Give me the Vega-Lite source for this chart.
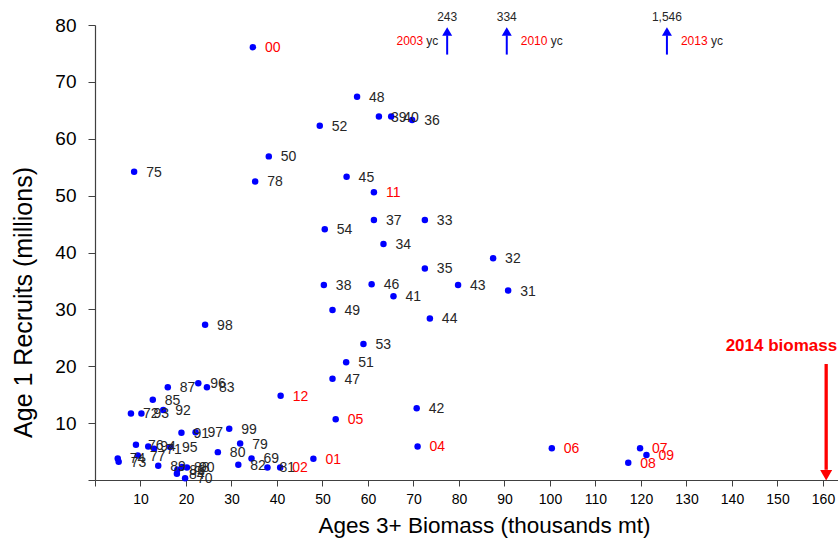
{
  "$schema": "https://vega.github.io/schema/vega-lite/v6.json",
  "width": 743,
  "height": 455,
  "autosize": {"type": "none"},
  "padding": {"left": 95, "top": 25, "right": 0, "bottom": 62},
  "background": "white",
  "config": {"view": {"stroke": null}, "font": "Liberation Sans", "axis": {"grid": false}},
  "datasets": {
    "points": [
      {"yr": "31", "biomass": 90.8, "recruits": 33.3, "period": "1931-1999"},
      {"yr": "32", "biomass": 87.5, "recruits": 39.0, "period": "1931-1999"},
      {"yr": "33", "biomass": 72.5, "recruits": 45.7, "period": "1931-1999"},
      {"yr": "34", "biomass": 63.4, "recruits": 41.5, "period": "1931-1999"},
      {"yr": "35", "biomass": 72.5, "recruits": 37.2, "period": "1931-1999"},
      {"yr": "36", "biomass": 69.7, "recruits": 63.3, "period": "1931-1999"},
      {"yr": "37", "biomass": 61.3, "recruits": 45.7, "period": "1931-1999"},
      {"yr": "38", "biomass": 50.3, "recruits": 34.3, "period": "1931-1999"},
      {"yr": "39", "biomass": 62.4, "recruits": 63.9, "period": "1931-1999"},
      {"yr": "40", "biomass": 65.1, "recruits": 63.9, "period": "1931-1999"},
      {"yr": "41", "biomass": 65.6, "recruits": 32.3, "period": "1931-1999"},
      {"yr": "42", "biomass": 70.7, "recruits": 12.6, "period": "1931-1999"},
      {"yr": "43", "biomass": 79.8, "recruits": 34.3, "period": "1931-1999"},
      {"yr": "44", "biomass": 73.6, "recruits": 28.4, "period": "1931-1999"},
      {"yr": "45", "biomass": 55.3, "recruits": 53.3, "period": "1931-1999"},
      {"yr": "46", "biomass": 60.8, "recruits": 34.4, "period": "1931-1999"},
      {"yr": "47", "biomass": 52.2, "recruits": 17.8, "period": "1931-1999"},
      {"yr": "48", "biomass": 57.6, "recruits": 67.4, "period": "1931-1999"},
      {"yr": "49", "biomass": 52.2, "recruits": 29.9, "period": "1931-1999"},
      {"yr": "50", "biomass": 38.2, "recruits": 56.9, "period": "1931-1999"},
      {"yr": "51", "biomass": 55.2, "recruits": 20.7, "period": "1931-1999"},
      {"yr": "52", "biomass": 49.4, "recruits": 62.3, "period": "1931-1999"},
      {"yr": "53", "biomass": 59.0, "recruits": 23.9, "period": "1931-1999"},
      {"yr": "54", "biomass": 50.5, "recruits": 44.1, "period": "1931-1999"},
      {"yr": "69", "biomass": 34.4, "recruits": 3.8, "period": "1931-1999"},
      {"yr": "70", "biomass": 19.8, "recruits": 0.3, "period": "1931-1999"},
      {"yr": "71", "biomass": 13.0, "recruits": 5.5, "period": "1931-1999"},
      {"yr": "72", "biomass": 7.9, "recruits": 11.7, "period": "1931-1999"},
      {"yr": "73", "biomass": 5.2, "recruits": 3.2, "period": "1931-1999"},
      {"yr": "74", "biomass": 5.0, "recruits": 3.8, "period": "1931-1999"},
      {"yr": "75", "biomass": 8.6, "recruits": 54.2, "period": "1931-1999"},
      {"yr": "76", "biomass": 9.0, "recruits": 6.2, "period": "1931-1999"},
      {"yr": "77", "biomass": 9.4, "recruits": 4.3, "period": "1931-1999"},
      {"yr": "78", "biomass": 35.2, "recruits": 52.5, "period": "1931-1999"},
      {"yr": "79", "biomass": 31.9, "recruits": 6.4, "period": "1931-1999"},
      {"yr": "80", "biomass": 27.0, "recruits": 4.9, "period": "1931-1999"},
      {"yr": "81", "biomass": 37.9, "recruits": 2.2, "period": "1931-1999"},
      {"yr": "82", "biomass": 31.5, "recruits": 2.7, "period": "1931-1999"},
      {"yr": "83", "biomass": 24.6, "recruits": 16.3, "period": "1931-1999"},
      {"yr": "84", "biomass": 18.0, "recruits": 1.1, "period": "1931-1999"},
      {"yr": "85", "biomass": 12.7, "recruits": 14.1, "period": "1931-1999"},
      {"yr": "86", "biomass": 18.1, "recruits": 1.8, "period": "1931-1999"},
      {"yr": "87", "biomass": 16.0, "recruits": 16.3, "period": "1931-1999"},
      {"yr": "88", "biomass": 19.1, "recruits": 2.3, "period": "1931-1999"},
      {"yr": "89", "biomass": 13.9, "recruits": 2.5, "period": "1931-1999"},
      {"yr": "90", "biomass": 20.2, "recruits": 2.2, "period": "1931-1999"},
      {"yr": "91", "biomass": 19.0, "recruits": 8.3, "period": "1931-1999"},
      {"yr": "92", "biomass": 15.0, "recruits": 12.3, "period": "1931-1999"},
      {"yr": "93", "biomass": 10.2, "recruits": 11.7, "period": "1931-1999"},
      {"yr": "94", "biomass": 11.7, "recruits": 5.9, "period": "1931-1999"},
      {"yr": "95", "biomass": 16.5, "recruits": 5.8, "period": "1931-1999"},
      {"yr": "96", "biomass": 22.7, "recruits": 17.0, "period": "1931-1999"},
      {"yr": "97", "biomass": 22.1, "recruits": 8.4, "period": "1931-1999"},
      {"yr": "98", "biomass": 24.2, "recruits": 27.3, "period": "1931-1999"},
      {"yr": "99", "biomass": 29.5, "recruits": 9.0, "period": "1931-1999"},
      {"yr": "00", "biomass": 34.7, "recruits": 76.1, "period": "2000-2012"},
      {"yr": "01", "biomass": 48.0, "recruits": 3.75, "period": "2000-2012"},
      {"yr": "02", "biomass": 40.7, "recruits": 2.2, "period": "2000-2012"},
      {"yr": "04", "biomass": 70.9, "recruits": 5.9, "period": "2000-2012"},
      {"yr": "05", "biomass": 52.9, "recruits": 10.7, "period": "2000-2012"},
      {"yr": "06", "biomass": 100.4, "recruits": 5.6, "period": "2000-2012"},
      {"yr": "07", "biomass": 119.8, "recruits": 5.6, "period": "2000-2012"},
      {"yr": "08", "biomass": 117.2, "recruits": 3.05, "period": "2000-2012"},
      {"yr": "09", "biomass": 121.2, "recruits": 4.4, "period": "2000-2012"},
      {"yr": "11", "biomass": 61.3, "recruits": 50.6, "period": "2000-2012"},
      {"yr": "12", "biomass": 40.8, "recruits": 14.8, "period": "2000-2012"}
    ],
    "offscale": [
      {"yc": "2003", "biomass": 77.4, "recruits": 243},
      {"yc": "2010", "biomass": 90.5, "recruits": 334},
      {"yc": "2013", "biomass": 125.7, "recruits": 1546}
    ],
    "current": [
      {"label": "2014 biomass", "biomass": 160.7}
    ]
  },
  "layer": [
    {
      "data": {"name": "points"},
      "mark": {"type": "circle", "size": 42, "color": "#0000ff", "opacity": 1},
      "encoding": {
        "x": {
          "field": "biomass", "type": "quantitative",
          "scale": {"domain": [0, 163.3], "nice": false, "zero": false},
          "axis": {
            "values": [0, 10, 20, 30, 40, 50, 60, 70, 80, 90, 100, 110, 120, 130, 140, 150, 160],
            "labelExpr": "datum.value == 0 ? '' : datum.label",
            "tickSize": 6, "tickColor": "#404040", "domainColor": "#404040", "domainWidth": 1.2,
            "labelFontSize": 14, "labelColor": "#000000", "labelPadding": 6,
            "title": "Ages 3+ Biomass (thousands mt)", "titleFontSize": 22.5, "titleFontWeight": "normal",
            "titleColor": "#000000", "titleX": 389, "titleY": 45, "titleBaseline": "middle"
          }
        },
        "y": {
          "field": "recruits", "type": "quantitative",
          "scale": {"domain": [0, 80], "nice": false, "zero": false},
          "axis": {
            "values": [0, 10, 20, 30, 40, 50, 60, 70, 80],
            "labelExpr": "datum.value == 0 ? '' : datum.label",
            "tickSize": 7, "tickColor": "#404040", "domainColor": "#404040", "domainWidth": 1.2,
            "labelFontSize": 19, "labelColor": "#000000", "labelPadding": 12,
            "title": "Age 1 Recruits (millions)", "titleFontSize": 25, "titleFontWeight": "normal",
            "titleColor": "#000000", "titleX": -72, "titleY": 277, "titleBaseline": "middle"
          }
        }
      }
    },
    {
      "data": {"name": "points"},
      "mark": {"type": "text", "align": "left", "baseline": "middle", "dx": 12, "dy": 1, "fontSize": 14},
      "encoding": {
        "x": {"field": "biomass", "type": "quantitative", "scale": {"domain": [0, 163.3], "nice": false, "zero": false}},
        "y": {"field": "recruits", "type": "quantitative", "scale": {"domain": [0, 80], "nice": false, "zero": false}},
        "text": {"field": "yr", "type": "nominal"},
        "color": {"field": "period", "type": "nominal", "scale": {"domain": ["1931-1999", "2000-2012"], "range": ["#262626", "#ff0000"]}, "legend": null}
      }
    },
    {
      "mark": {"type": "rule", "color": "#808080", "strokeWidth": 1.5},
      "encoding": {"y": {"datum": 80, "type": "quantitative", "scale": {"domain": [0, 80], "nice": false, "zero": false}}}
    },
    {
      "data": {"name": "offscale"},
      "mark": {"type": "rule", "color": "#0000ff", "strokeWidth": 2},
      "encoding": {
        "x": {"field": "biomass", "type": "quantitative", "scale": {"domain": [0, 163.3], "nice": false, "zero": false}},
        "y": {"datum": 74.8, "type": "quantitative", "scale": {"domain": [0, 80], "nice": false, "zero": false}},
        "y2": {"datum": 78.2}
      }
    },
    {
      "data": {"name": "offscale"},
      "mark": {"type": "point", "shape": "triangle-up", "filled": true, "size": 100, "color": "#0000ff", "opacity": 1},
      "encoding": {
        "x": {"field": "biomass", "type": "quantitative", "scale": {"domain": [0, 163.3], "nice": false, "zero": false}},
        "y": {"datum": 78.85, "type": "quantitative", "scale": {"domain": [0, 80], "nice": false, "zero": false}}
      }
    },
    {
      "data": {"name": "offscale"},
      "mark": {"type": "text", "align": "center", "baseline": "middle", "fontSize": 12, "color": "#262626"},
      "encoding": {
        "x": {"field": "biomass", "type": "quantitative", "scale": {"domain": [0, 163.3], "nice": false, "zero": false}},
        "y": {"datum": 81.4, "type": "quantitative", "scale": {"domain": [0, 80], "nice": false, "zero": false}},
        "text": {"field": "recruits", "type": "quantitative", "format": ","}
      }
    },
    {
      "data": {"name": "offscale"},
      "transform": [{"filter": "datum.yc == '2003'"}],
      "layer": [
        {
          "mark": {"type": "text", "align": "right", "baseline": "middle", "fontSize": 12, "color": "#ff0000", "dx": -24},
          "encoding": {
            "x": {"field": "biomass", "type": "quantitative", "scale": {"domain": [0, 163.3], "nice": false, "zero": false}},
            "y": {"datum": 77.2, "type": "quantitative", "scale": {"domain": [0, 80], "nice": false, "zero": false}},
            "text": {"field": "yc", "type": "nominal"}
          }
        },
        {
          "mark": {"type": "text", "align": "right", "baseline": "middle", "fontSize": 12, "color": "#262626", "dx": -9, "text": "yc"},
          "encoding": {
            "x": {"field": "biomass", "type": "quantitative", "scale": {"domain": [0, 163.3], "nice": false, "zero": false}},
            "y": {"datum": 77.2, "type": "quantitative", "scale": {"domain": [0, 80], "nice": false, "zero": false}}
          }
        }
      ]
    },
    {
      "data": {"name": "offscale"},
      "transform": [{"filter": "datum.yc != '2003'"}],
      "layer": [
        {
          "mark": {"type": "text", "align": "left", "baseline": "middle", "fontSize": 12, "color": "#ff0000", "dx": 14},
          "encoding": {
            "x": {"field": "biomass", "type": "quantitative", "scale": {"domain": [0, 163.3], "nice": false, "zero": false}},
            "y": {"datum": 77.2, "type": "quantitative", "scale": {"domain": [0, 80], "nice": false, "zero": false}},
            "text": {"field": "yc", "type": "nominal"}
          }
        },
        {
          "mark": {"type": "text", "align": "left", "baseline": "middle", "fontSize": 12, "color": "#262626", "dx": 44, "text": "yc"},
          "encoding": {
            "x": {"field": "biomass", "type": "quantitative", "scale": {"domain": [0, 163.3], "nice": false, "zero": false}},
            "y": {"datum": 77.2, "type": "quantitative", "scale": {"domain": [0, 80], "nice": false, "zero": false}}
          }
        }
      ]
    },
    {
      "data": {"name": "current"},
      "mark": {"type": "rule", "color": "#ff0000", "strokeWidth": 3.3},
      "encoding": {
        "x": {"field": "biomass", "type": "quantitative", "scale": {"domain": [0, 163.3], "nice": false, "zero": false}},
        "y": {"datum": 20.4, "type": "quantitative", "scale": {"domain": [0, 80], "nice": false, "zero": false}},
        "y2": {"datum": 1.8}
      }
    },
    {
      "data": {"name": "current"},
      "mark": {"type": "point", "shape": "triangle-down", "filled": true, "size": 144, "color": "#ff0000", "opacity": 1},
      "encoding": {
        "x": {"field": "biomass", "type": "quantitative", "scale": {"domain": [0, 163.3], "nice": false, "zero": false}},
        "y": {"datum": 0.83, "type": "quantitative", "scale": {"domain": [0, 80], "nice": false, "zero": false}}
      }
    },
    {
      "data": {"name": "current"},
      "mark": {"type": "text", "align": "right", "baseline": "middle", "fontSize": 17, "fontWeight": "bold", "color": "#ff0000", "dx": 11},
      "encoding": {
        "x": {"field": "biomass", "type": "quantitative", "scale": {"domain": [0, 163.3], "nice": false, "zero": false}},
        "y": {"datum": 23.6, "type": "quantitative", "scale": {"domain": [0, 80], "nice": false, "zero": false}},
        "text": {"field": "label", "type": "nominal"}
      }
    }
  ]
}
